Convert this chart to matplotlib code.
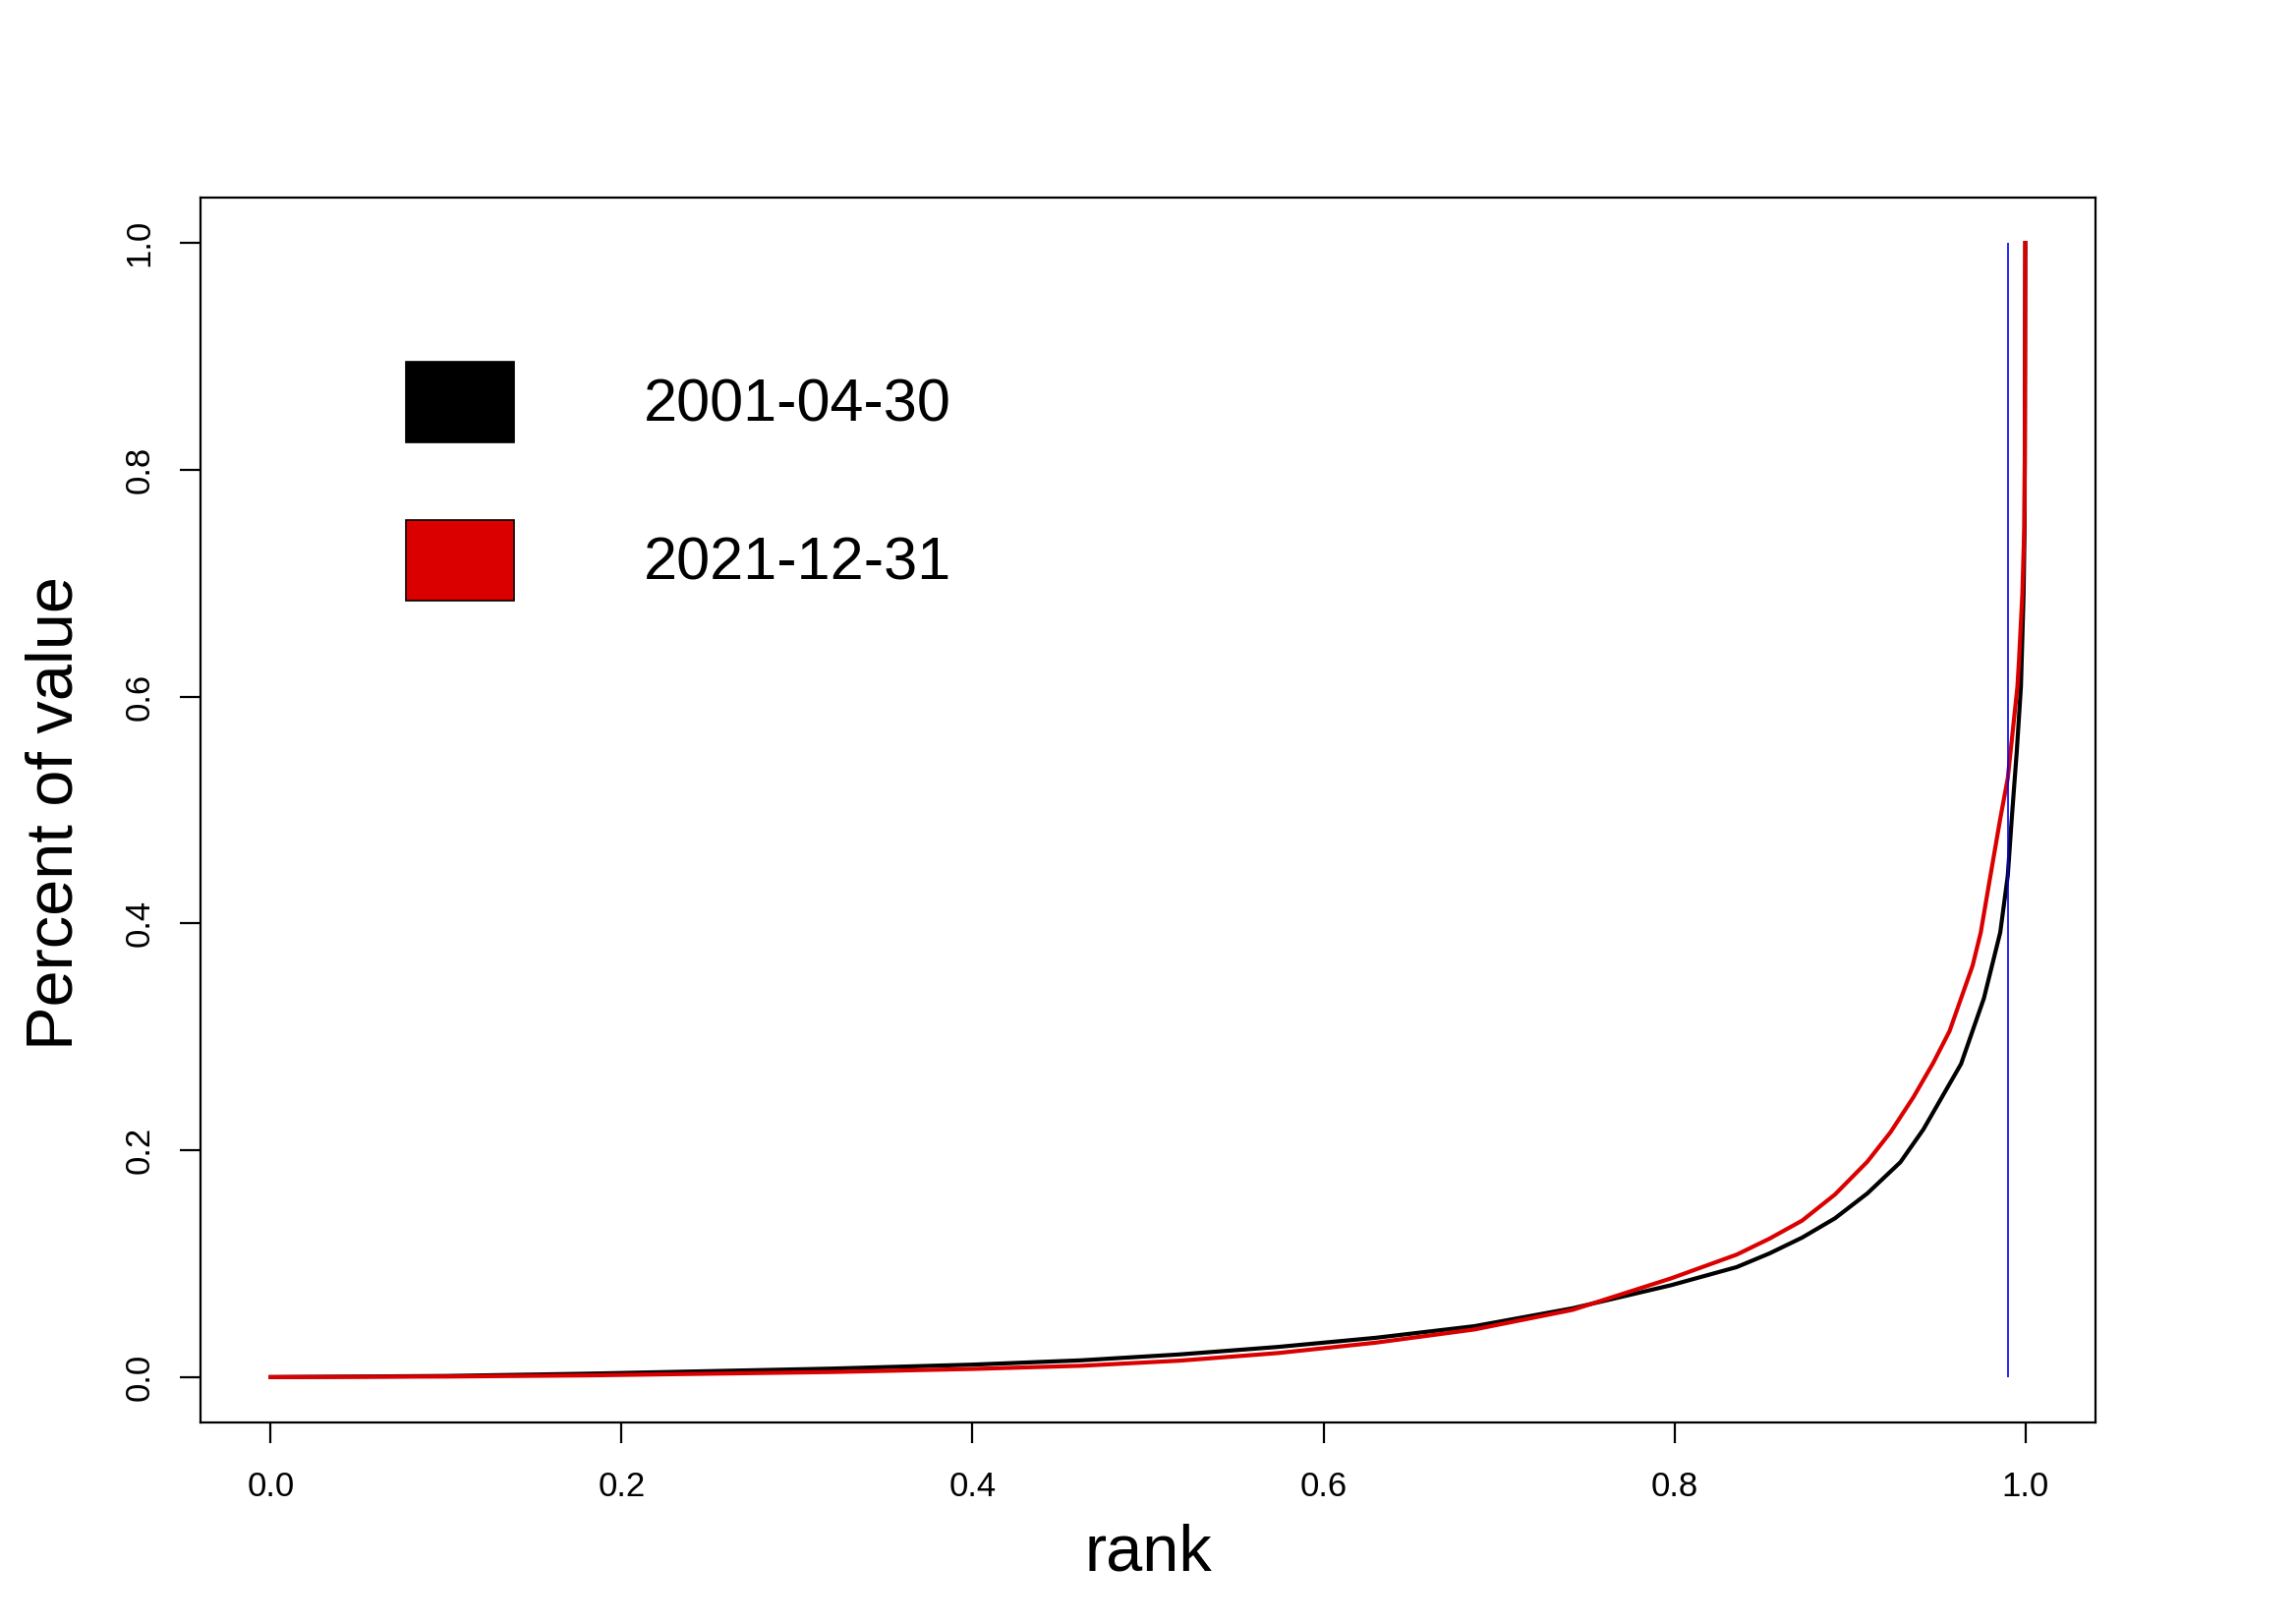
import matplotlib
matplotlib.use("Agg")
import matplotlib.pyplot as plt
from matplotlib.patches import Patch

plt.rcParams['font.family'] = ['Liberation Sans', 'DejaVu Sans']

# share of total value held up to each rank
rank_2001 = [0.0, 0.1, 0.18, 0.32, 0.4, 0.462, 0.518, 0.574, 0.63, 0.686,
             0.742, 0.798, 0.8355, 0.8541, 0.8728, 0.8915, 0.91, 0.9288,
             0.9419, 0.9634, 0.9764, 0.9857, 0.99, 0.9923, 0.9951, 0.9975,
             0.999, 0.9996, 1.0]
value_2001 = [0.0, 0.001, 0.003, 0.0075, 0.011, 0.0148, 0.020, 0.0266,
              0.0347, 0.0449, 0.0607, 0.081, 0.097, 0.109, 0.123, 0.140,
              0.162, 0.1895, 0.2184, 0.2762, 0.334, 0.392, 0.442, 0.4931,
              0.5509, 0.6087, 0.69, 0.75, 1.0]

rank_2021 = [0.0, 0.1, 0.18, 0.32, 0.4, 0.462, 0.518, 0.574, 0.63, 0.686,
             0.742, 0.798, 0.8355, 0.8541, 0.8728, 0.8915, 0.91, 0.9232,
             0.9363, 0.9475, 0.9568, 0.97, 0.9746, 0.979, 0.9858, 0.99,
             0.9955, 0.9964, 0.9983, 0.9994, 0.9997, 1.0]
value_2021 = [0.0, 0.0005, 0.0015, 0.0045, 0.0072, 0.010, 0.0145, 0.0212,
              0.0304, 0.042, 0.0593, 0.087, 0.108, 0.122, 0.138, 0.161, 0.190,
              0.216, 0.247, 0.277, 0.305, 0.363, 0.392, 0.432, 0.4931, 0.528,
              0.6087, 0.632, 0.69, 0.748, 0.806, 1.0]

dates = ["2001-04-30", "2021-12-31"]
colors = ["black", "#da0000"]
cutoff = 0.99

fig = plt.figure(figsize=(11.68, 8.26), dpi=200)
ax = fig.add_axes([204/2336, 1 - 1447/1652, (2132 - 204)/2336, (1447 - 201)/1652])

ax.plot(rank_2001, value_2001, color=colors[0], lw=1.5)
ax.plot(rank_2021, value_2021, color=colors[1], lw=1.5)
ax.vlines(cutoff, 0, 1, color="blue", lw=0.6, zorder=5)

ax.set_xlim(-0.04, 1.04)
ax.set_ylim(-0.04, 1.04)
ticks = [0.0, 0.2, 0.4, 0.6, 0.8, 1.0]
ax.set_xticks(ticks)
ax.set_yticks(ticks)
ax.set_xticklabels(["%.1f" % t for t in ticks])
ax.set_yticklabels(["%.1f" % t for t in ticks], rotation=90, va="center")
ax.tick_params(length=7.5, width=0.8, labelsize=12.5)
ax.tick_params(axis="x", pad=10)
ax.tick_params(axis="y", pad=9)
for s in ax.spines.values():
    s.set_linewidth(0.8)

fig.text(1168/2336, 1 - 1580/1652, "rank", ha="center", va="center", fontsize=24)
fig.text(57/2336, 1 - 827/1652, "Percent of value", ha="center", va="center",
         rotation=90, fontsize=24)

handles = [Patch(facecolor=c, edgecolor="black", lw=0.6) for c in colors]
ax.legend(handles, dates, loc="upper left", bbox_to_anchor=(413/2336, 1 - 368/1652),
          bbox_transform=fig.transFigure, frameon=False, fontsize=22,
          handlelength=1.8, handleheight=1.688, handletextpad=2.15,
          labelspacing=1.29, borderpad=0, borderaxespad=0)

fig.savefig("out.png", dpi=200)
